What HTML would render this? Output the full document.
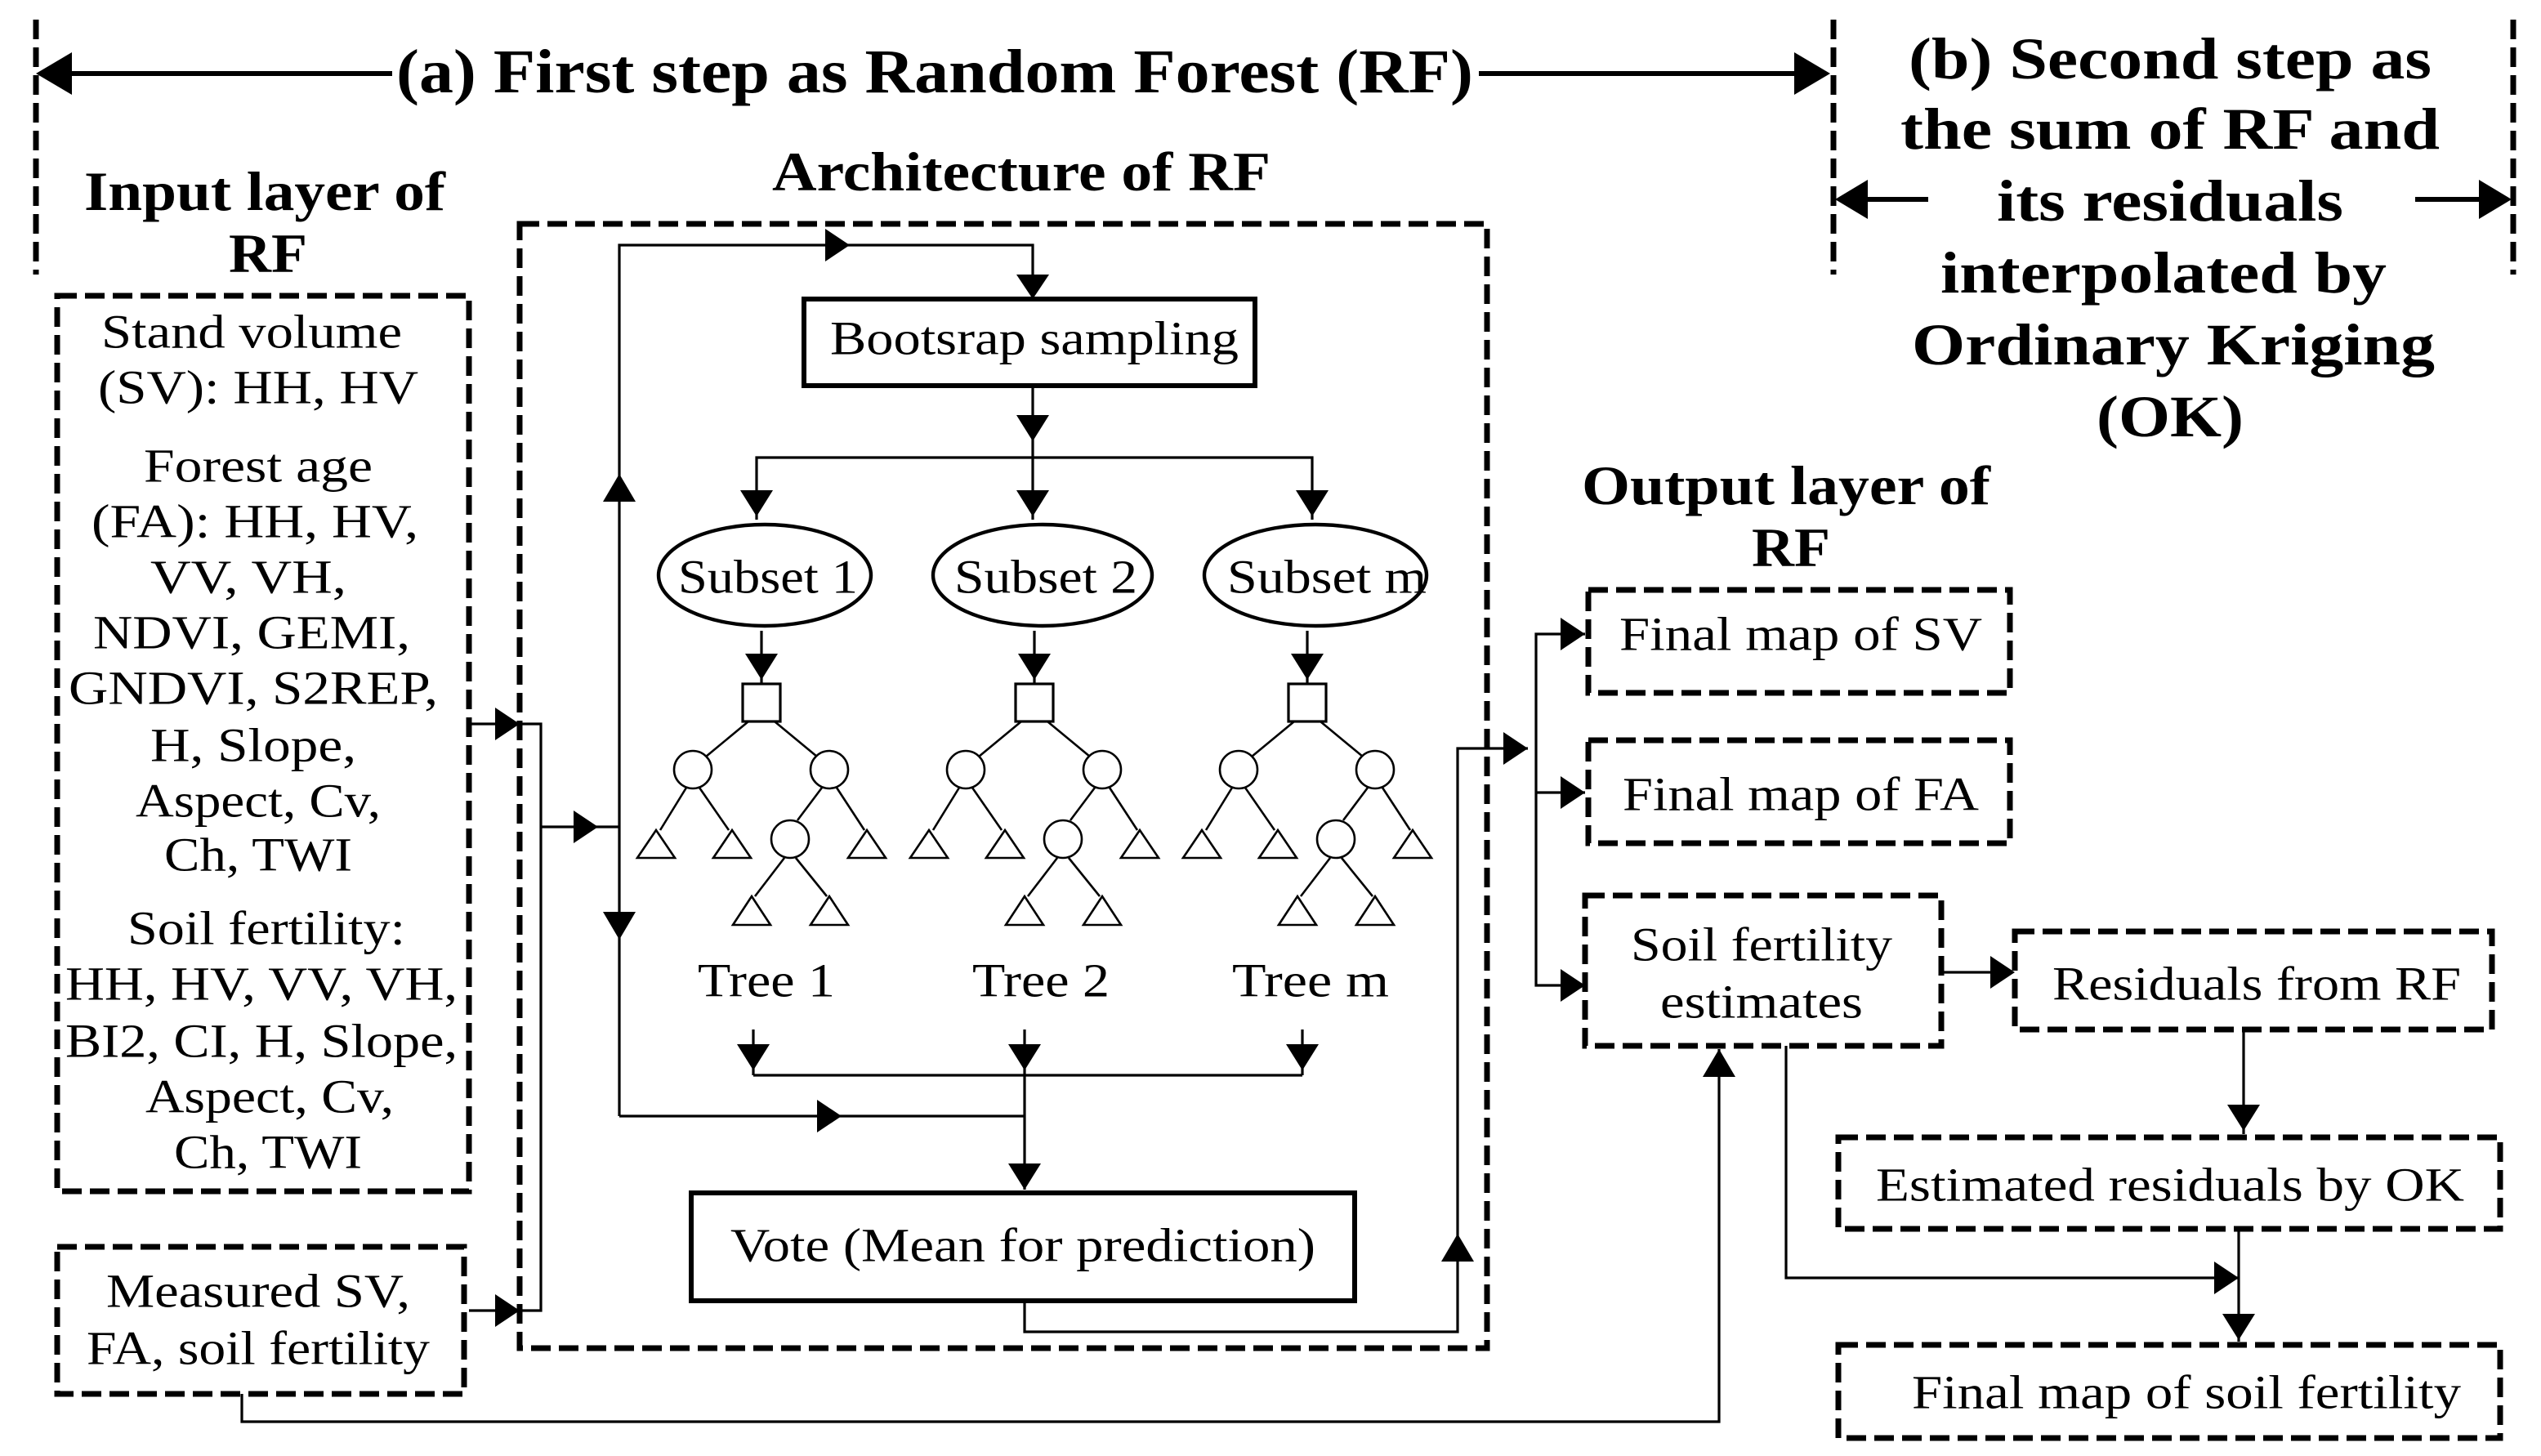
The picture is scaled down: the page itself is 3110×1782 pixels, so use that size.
<!DOCTYPE html>
<html><head><meta charset="utf-8"><style>
html,body{margin:0;padding:0;background:#fff;}
svg{display:block;}
text{font-family:"Liberation Serif","Times New Roman",serif;fill:#000;}
.b{font-weight:bold;}
</style></head><body>
<svg width="3110" height="1782" viewBox="0 0 1555 891" xmlns="http://www.w3.org/2000/svg">
<defs>
<g id="tree" fill="none" stroke="#000" stroke-width="1.3">
  <rect x="-11.5" y="-11.5" width="23" height="23" stroke-width="1.6"/>
  <line x1="-8" y1="11.5" x2="-34" y2="33"/><line x1="8" y1="11.5" x2="34" y2="33"/>
  <circle cx="-42" cy="41" r="11.5"/><circle cx="41.5" cy="41" r="11.5"/>
  <line x1="-46" y1="52" x2="-62" y2="78"/><line x1="-38" y1="52" x2="-20" y2="78"/>
  <line x1="37" y1="52" x2="22" y2="72"/><line x1="46" y1="52" x2="63" y2="78"/>
  <circle cx="17.5" cy="83.5" r="11.5"/>
  <line x1="14" y1="95" x2="-4" y2="118.5"/><line x1="21" y1="95" x2="40" y2="118.5"/>
  <polygon points="-64.5,78 -53,95 -76,95"/><polygon points="-18,78 -6.5,95 -29.5,95"/>
  <polygon points="64.5,78 76,95 53,95"/>
  <polygon points="-6,118.5 5.5,136 -17.5,136"/><polygon points="41.5,118.5 53,136 30,136"/>
</g>
</defs>
<g fill="none" stroke="#000" stroke-width="3.5" stroke-dasharray="12 5">
  <line x1="22" y1="12" x2="22" y2="168"/>
  <line x1="1122" y1="12" x2="1122" y2="168"/>
  <line x1="1538" y1="12" x2="1538" y2="168"/>
  <rect x="35" y="181" width="252" height="548"/>
  <rect x="35" y="763" width="249" height="90"/>
  <rect x="318" y="137" width="592" height="688"/>
  <rect x="972" y="361" width="258" height="63"/>
  <rect x="972" y="453" width="258" height="63"/>
  <rect x="970" y="548" width="218" height="92"/>
  <rect x="1233" y="570" width="292" height="60"/>
  <rect x="1125" y="696" width="405" height="56"/>
  <rect x="1125" y="823" width="405" height="57"/>
</g>
<g fill="none" stroke="#000" stroke-width="3">
  <rect x="492" y="183" width="276" height="53"/>
  <rect x="423" y="730" width="406" height="66"/>
  <line x1="30" y1="45" x2="240" y2="45"/>
  <line x1="905" y1="45" x2="1110" y2="45"/>
  <line x1="1130" y1="122" x2="1180" y2="122"/>
  <line x1="1478" y1="122" x2="1530" y2="122"/>
</g>
<g fill="none" stroke="#000" stroke-width="1.6">
  <polyline points="287,443 331,443 331,802 287,802"/>
  <line x1="331" y1="506" x2="379" y2="506"/>
  <polyline points="379,683 379,150 632,150 632,183"/>
  <line x1="379" y1="683" x2="627" y2="683"/>
  <line x1="632" y1="236" x2="632" y2="280"/>
  <polyline points="463,318 463,280 803,280 803,318"/>
  <line x1="632" y1="280" x2="632" y2="318"/>
  <line x1="466" y1="386" x2="466" y2="418"/>
  <line x1="633" y1="386" x2="633" y2="418"/>
  <line x1="800" y1="386" x2="800" y2="418"/>
  <line x1="461" y1="630" x2="461" y2="658"/>
  <line x1="627" y1="630" x2="627" y2="728"/>
  <line x1="797" y1="630" x2="797" y2="658"/>
  <line x1="461" y1="658" x2="797" y2="658"/>
  <polyline points="627,796 627,815 892,815 892,458 935,458"/>
  <polyline points="970,388 940,388 940,603 968,603"/>
  <line x1="940" y1="485" x2="970" y2="485"/>
  <line x1="1188" y1="595" x2="1231" y2="595"/>
  <line x1="1373" y1="630" x2="1373" y2="694"/>
  <line x1="1370" y1="752" x2="1370" y2="821"/>
  <polyline points="1093,640 1093,782 1370,782"/>
  <polyline points="148,853 148,870 1052,870 1052,642"/>
</g>
<g fill="#000" stroke="none">
  <polygon points="22,45 44,32 44,58"/>
  <polygon points="1120,45 1098,32 1098,58"/>
  <polygon points="1123,122 1143,110 1143,134"/>
  <polygon points="1537,122 1517,110 1517,134"/>
  <polygon points="318,443 303,433 303,453"/>
  <polygon points="318,802 303,792 303,812"/>
  <polygon points="366,506 351,496 351,516"/>
  <polygon points="520,150 505,140 505,160"/>
  <polygon points="515,683 500,673 500,693"/>
  <polygon points="935,458 920,448 920,468"/>
  <polygon points="970,388 955,378 955,398"/>
  <polygon points="970,485 955,475 955,495"/>
  <polygon points="970,603 955,593 955,613"/>
  <polygon points="1233,595 1218,585 1218,605"/>
  <polygon points="1370,782 1355,772 1355,792"/>
  <polygon points="632,183 622,168 642,168"/>
  <polygon points="632,270 622,254 642,254"/>
  <polygon points="463,316 453,300 473,300"/>
  <polygon points="632,316 622,300 642,300"/>
  <polygon points="803,316 793,300 813,300"/>
  <polygon points="466,416 456,400 476,400"/>
  <polygon points="633,416 623,400 643,400"/>
  <polygon points="800,416 790,400 810,400"/>
  <polygon points="379,575 369,558 389,558"/>
  <polygon points="461,655 451,639 471,639"/>
  <polygon points="627,655 617,639 637,639"/>
  <polygon points="797,655 787,639 807,639"/>
  <polygon points="627,728 617,712 637,712"/>
  <polygon points="1373,692 1363,676 1383,676"/>
  <polygon points="1370,820 1360,804 1380,804"/>
  <polygon points="379,290 369,307 389,307"/>
  <polygon points="892,755 882,772 902,772"/>
  <polygon points="1052,642 1042,659 1062,659"/>
</g>
<use href="#tree" x="466" y="430"/>
<use href="#tree" x="633" y="430"/>
<use href="#tree" x="800" y="430"/>
<g fill="#fff" stroke="#000" stroke-width="2.2">
  <ellipse cx="468" cy="352" rx="65" ry="31"/>
  <ellipse cx="638" cy="352" rx="67" ry="31"/>
  <ellipse cx="805" cy="352" rx="68" ry="31"/>
</g>
<g dominant-baseline="central" text-anchor="middle">
  <text class="b" x="572" y="44" font-size="38" textLength="659" lengthAdjust="spacingAndGlyphs">(a) First step as Random Forest (RF)</text>
  <text class="b" x="1328" y="36" font-size="36" textLength="320" lengthAdjust="spacingAndGlyphs">(b) Second step as</text>
  <text class="b" x="1328" y="79" font-size="36" textLength="330" lengthAdjust="spacingAndGlyphs">the sum of RF and</text>
  <text class="b" x="1328" y="123" font-size="36" textLength="212" lengthAdjust="spacingAndGlyphs">its residuals</text>
  <text class="b" x="1324" y="167" font-size="36" textLength="273" lengthAdjust="spacingAndGlyphs">interpolated by</text>
  <text class="b" x="1330" y="211" font-size="36" textLength="320" lengthAdjust="spacingAndGlyphs">Ordinary Kriging</text>
  <text class="b" x="1328" y="255" font-size="36" textLength="90" lengthAdjust="spacingAndGlyphs">(OK)</text>
  <text class="b" x="162" y="117" font-size="34" textLength="221" lengthAdjust="spacingAndGlyphs">Input layer of</text>
  <text class="b" x="164" y="155" font-size="34" textLength="48" lengthAdjust="spacingAndGlyphs">RF</text>
  <text class="b" x="625" y="105" font-size="34" textLength="305" lengthAdjust="spacingAndGlyphs">Architecture of RF</text>
  <text class="b" x="1093" y="297" font-size="34" textLength="250" lengthAdjust="spacingAndGlyphs">Output layer of</text>
  <text class="b" x="1096" y="335" font-size="34" textLength="48" lengthAdjust="spacingAndGlyphs">RF</text>
  <g font-size="29">
    <text x="154" y="203" textLength="184" lengthAdjust="spacingAndGlyphs">Stand volume</text>
    <text x="158" y="237" textLength="196" lengthAdjust="spacingAndGlyphs">(SV): HH, HV</text>
    <text x="158" y="285" textLength="140" lengthAdjust="spacingAndGlyphs">Forest age</text>
    <text x="156" y="319" textLength="200" lengthAdjust="spacingAndGlyphs">(FA): HH, HV,</text>
    <text x="152" y="353" textLength="120" lengthAdjust="spacingAndGlyphs">VV, VH,</text>
    <text x="154" y="387" textLength="194" lengthAdjust="spacingAndGlyphs">NDVI, GEMI,</text>
    <text x="155" y="421" textLength="226" lengthAdjust="spacingAndGlyphs">GNDVI, S2REP,</text>
    <text x="155" y="456" textLength="126" lengthAdjust="spacingAndGlyphs">H, Slope,</text>
    <text x="158" y="490" textLength="150" lengthAdjust="spacingAndGlyphs">Aspect, Cv,</text>
    <text x="158" y="523" textLength="115" lengthAdjust="spacingAndGlyphs">Ch, TWI</text>
    <text x="163" y="568" textLength="170" lengthAdjust="spacingAndGlyphs">Soil fertility:</text>
    <text x="160" y="602" textLength="240" lengthAdjust="spacingAndGlyphs">HH, HV, VV, VH,</text>
    <text x="160" y="637" textLength="240" lengthAdjust="spacingAndGlyphs">BI2, CI, H, Slope,</text>
    <text x="165" y="671" textLength="152" lengthAdjust="spacingAndGlyphs">Aspect, Cv,</text>
    <text x="164" y="705" textLength="115" lengthAdjust="spacingAndGlyphs">Ch, TWI</text>
    <text x="158" y="790" textLength="186" lengthAdjust="spacingAndGlyphs">Measured SV,</text>
    <text x="158" y="825" textLength="210" lengthAdjust="spacingAndGlyphs">FA, soil fertility</text>
    <text x="633" y="207" textLength="250" lengthAdjust="spacingAndGlyphs">Bootsrap sampling</text>
    <text x="470" y="353" textLength="110" lengthAdjust="spacingAndGlyphs">Subset 1</text>
    <text x="640" y="353" textLength="112" lengthAdjust="spacingAndGlyphs">Subset 2</text>
    <text x="812" y="353" textLength="122" lengthAdjust="spacingAndGlyphs">Subset m</text>
    <text x="469" y="600" textLength="84" lengthAdjust="spacingAndGlyphs">Tree 1</text>
    <text x="637" y="600" textLength="84" lengthAdjust="spacingAndGlyphs">Tree 2</text>
    <text x="802" y="600" textLength="96" lengthAdjust="spacingAndGlyphs">Tree m</text>
    <text x="626" y="762" textLength="358" lengthAdjust="spacingAndGlyphs">Vote (Mean for prediction)</text>
    <text x="1102" y="388" textLength="222" lengthAdjust="spacingAndGlyphs">Final map of SV</text>
    <text x="1102" y="486" textLength="218" lengthAdjust="spacingAndGlyphs">Final map of FA</text>
    <text x="1078" y="578" textLength="160" lengthAdjust="spacingAndGlyphs">Soil fertility</text>
    <text x="1078" y="613" textLength="124" lengthAdjust="spacingAndGlyphs">estimates</text>
    <text x="1381" y="602" textLength="250" lengthAdjust="spacingAndGlyphs">Residuals from RF</text>
    <text x="1328" y="725" textLength="360" lengthAdjust="spacingAndGlyphs">Estimated residuals by OK</text>
    <text x="1338" y="852" textLength="336" lengthAdjust="spacingAndGlyphs">Final map of soil fertility</text>
  </g>
</g>
</svg>
</body></html>
